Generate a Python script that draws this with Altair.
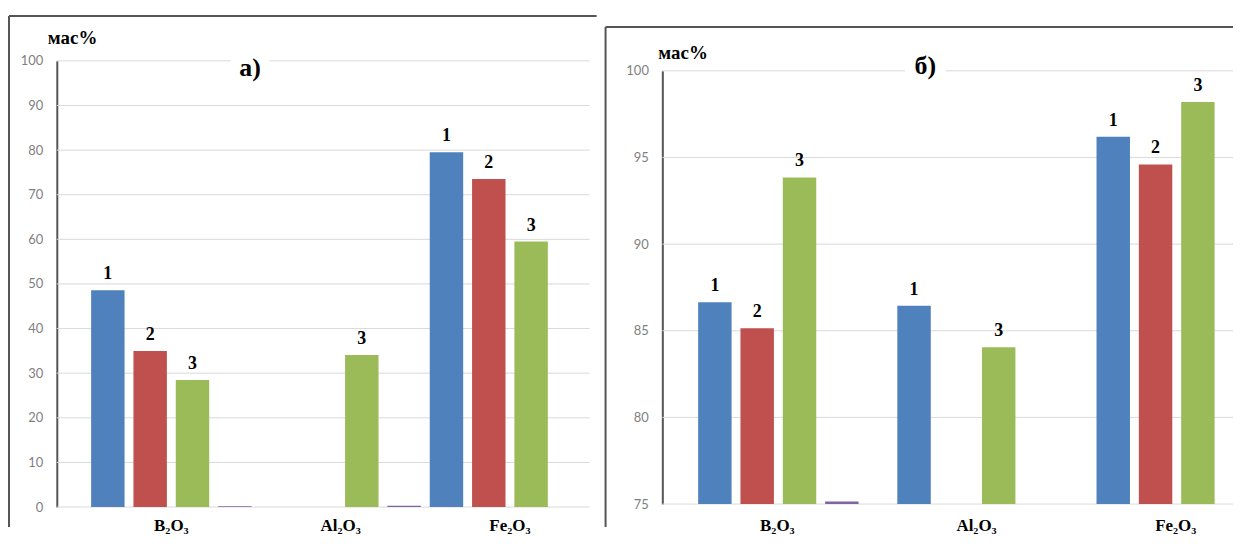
import altair as alt
import pandas as pd

categories = ["B₂O₃", "Al₂O₃", "Fe₂O₃"]
series = ["1", "2", "3", "4"]
colors = ["#4f81bd", "#c0504d", "#9bbb59", "#8064a2"]

# panel a)  (values per series, in category order)
a_s1 = [48.6, None, 79.5]
a_s2 = [35.0, None, 73.5]
a_s3 = [28.5, 34.1, 59.5]
a_s4 = [0.2, 0.3, None]
a_ticks = [0, 10, 20, 30, 40, 50, 60, 70, 80, 90, 100]

# panel б)
b_s1 = [86.65, 86.45, 96.2]
b_s2 = [85.15, None, 94.6]
b_s3 = [93.85, 84.05, 98.2]
b_s4 = [75.15, None, None]
b_ticks = [75, 80, 85, 90, 95, 100]


def build(cols):
    rows = []
    for s, vals in zip(series, cols):
        for c, v in zip(categories, vals):
            if v is not None:
                rows.append({"oxide": c, "series": s, "value": v,
                             "label": s if s != "4" else ""})
    return pd.DataFrame(rows)


df_a = build([a_s1, a_s2, a_s3, a_s4])
df_b = build([b_s1, b_s2, b_s3, b_s4])
one = pd.DataFrame({"k": [0]})

x_axis = alt.Axis(title=None, labelAngle=0, domain=False, ticks=False,
                  labelFont="Liberation Serif", labelFontWeight="bold",
                  labelFontSize=17, labelColor="black", labelPadding=11)


def y_axis(vals):
    return alt.Axis(title=None, values=vals, grid=False,
                    domainColor="#555555", domainWidth=2,
                    ticks=False, labelFont="Lato", labelFontSize=13,
                    labelColor="#7f7f7f", labelPadding=14)


xo = alt.XOffset("series:N", scale=alt.Scale(domain=series, paddingInner=0.21,
                                             paddingOuter=0.105))
col = alt.Color("series:N", scale=alt.Scale(domain=series, range=colors),
                legend=None)


def panel(df, ticks, x_scale, y_scale, base_val, w, h, letter, letter_x,
          letter_y, mas_x, mas_y, fx, fy, fright, fbottom):
    yax = y_axis(ticks)
    x = alt.X("oxide:N", sort=categories, scale=x_scale, axis=x_axis)
    y = alt.Y("value:Q", scale=y_scale, axis=yax)
    grid = alt.Chart(pd.DataFrame({"value": ticks})).mark_rule(
        color="#d9d9d9", strokeWidth=1
    ).encode(y=alt.Y("value:Q", scale=y_scale, axis=yax),
             x=alt.value(0), x2=alt.value(w))
    enc = dict(x=x, xOffset=xo, y=y)
    if base_val is not None:
        enc["y2"] = alt.datum(base_val)
    bars = alt.Chart(df).mark_bar().encode(color=col, **enc)
    labels = alt.Chart(df).transform_filter("datum.series != '4'").mark_text(
        dy=-11, baseline="alphabetic", font="Liberation Serif",
        fontWeight="bold", fontSize=18, color="black"
    ).encode(x=x, xOffset=xo, y=y, text="label:N")
    mas = alt.Chart(one).mark_text(
        align="left", baseline="alphabetic", font="Liberation Serif",
        fontWeight="bold", fontSize=19, color="black"
    ).encode(x=alt.value(mas_x), y=alt.value(mas_y), text=alt.value("мас%"))
    halo = alt.Chart(one).mark_text(
        align="center", baseline="alphabetic", font="Liberation Serif",
        fontWeight="bold", fontSize=26, color="white", stroke="white",
        strokeWidth=22
    ).encode(x=alt.value(letter_x), y=alt.value(letter_y), text=alt.value(letter))
    let = alt.Chart(one).mark_text(
        align="center", baseline="alphabetic", font="Liberation Serif",
        fontWeight="bold", fontSize=26, color="black"
    ).encode(x=alt.value(letter_x), y=alt.value(letter_y), text=alt.value(letter))
    ftop = alt.Chart(one).mark_rule(color="#555555", strokeWidth=2).encode(
        x=alt.value(fx), x2=alt.value(fright), y=alt.value(fy))
    fleft = alt.Chart(one).mark_rule(color="#555555", strokeWidth=2).encode(
        x=alt.value(fx), y=alt.value(fy), y2=alt.value(fbottom))
    return alt.layer(grid, bars, labels, mas, halo, let, ftop, fleft).properties(
        width=w, height=h)


left = panel(
    df_a, a_ticks,
    alt.Scale(domain=categories, range=[30, 540], paddingInner=0, paddingOuter=0),
    alt.Scale(domain=[0, 100], nice=False),
    None, 535, 448, "а)", 194, 15, -9, -17, -48, -45, 542, 468)

right = panel(
    df_b, b_ticks,
    alt.Scale(domain=categories, range=[31.5, 599.5], paddingInner=0.16,
              paddingOuter=0),
    alt.Scale(domain=[75, 100], range=[445, 10], nice=False, zero=False),
    75, 573, 448, "б)", 264, 13, -4, -2, -57, -34, 573, 468)

chart = alt.hconcat(left, right, spacing=7).configure(
    padding={"left": 0, "top": 6, "right": 0, "bottom": 0}
).configure_view(stroke=None)

chart.save("out.html", embed_options={"renderer": "svg", "actions": False})
